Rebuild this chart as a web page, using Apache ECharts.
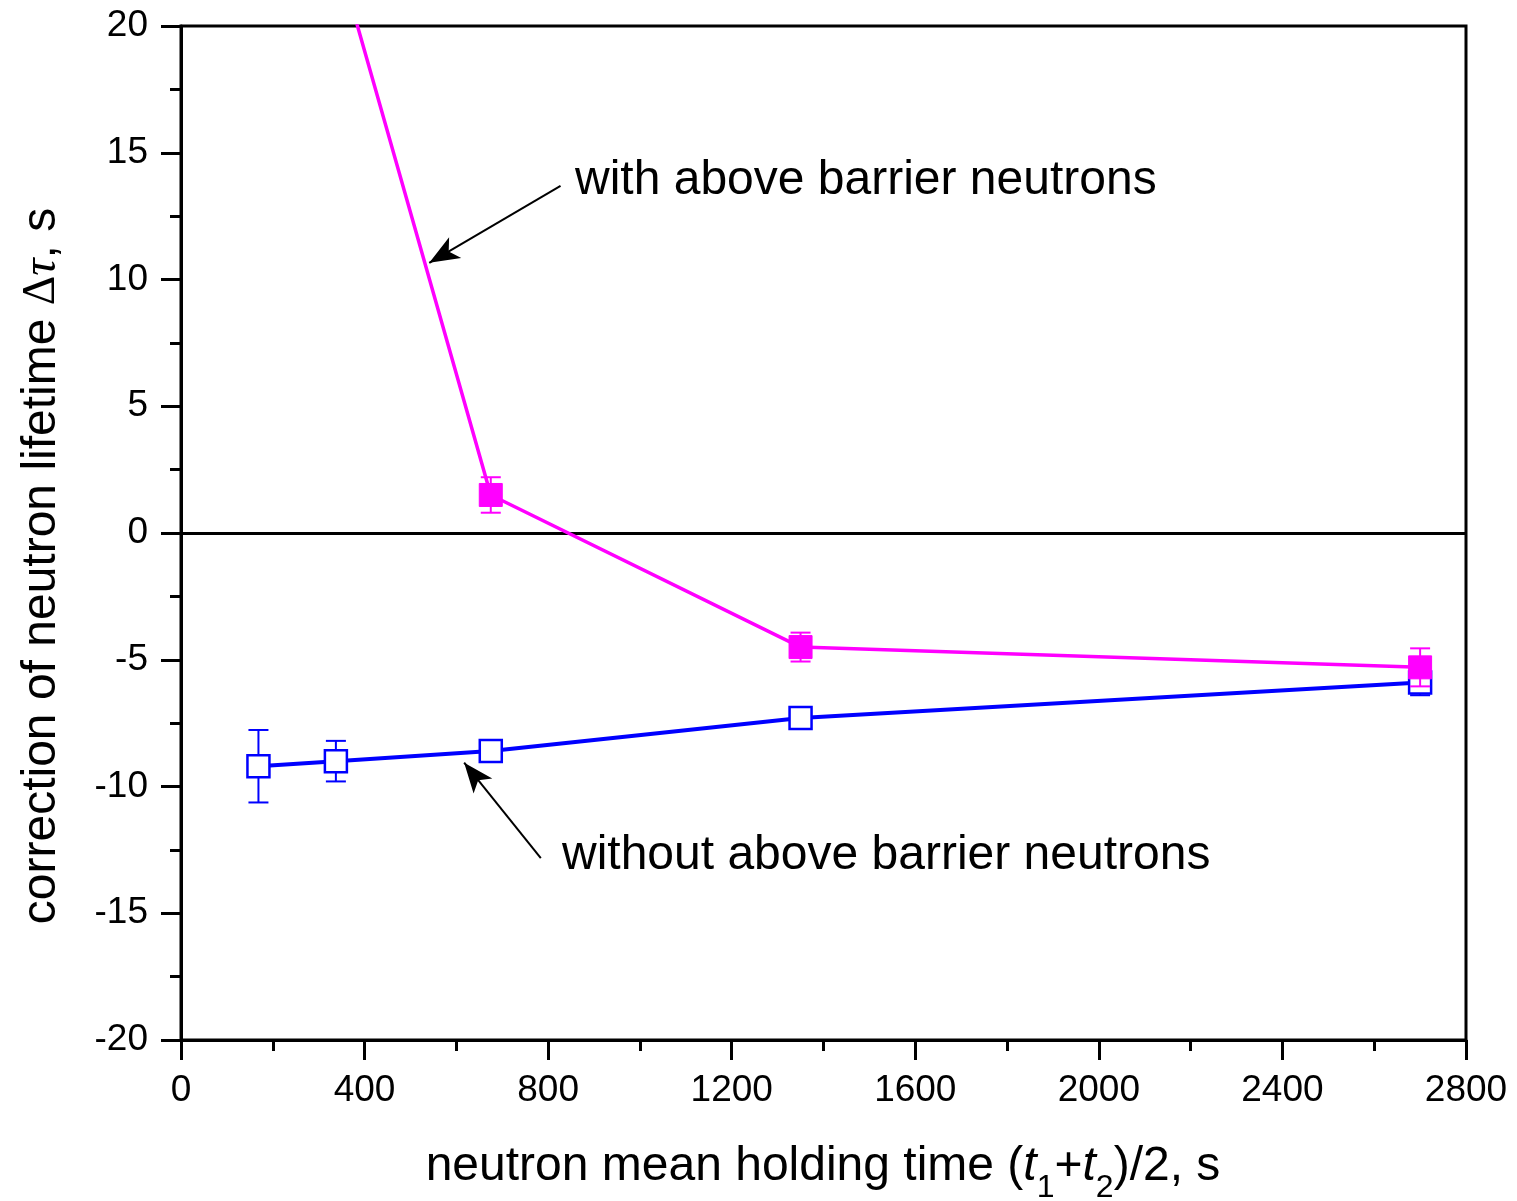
<!DOCTYPE html>
<html>
<head>
<meta charset="utf-8">
<script src="https://cdn.jsdelivr.net/npm/echarts@6/dist/echarts.min.js"></script>
<style>
  html, body { margin: 0; padding: 0; background: #ffffff; }
  #chart { width: 1517px; height: 1201px; }
</style>
</head>
<body>
<div id="chart"></div>
<script>
// Neutron mean holding time (t1+t2)/2, s
const holdingTime = [168.75, 337.5, 675, 1350, 2700];
// Correction of neutron lifetime without above-barrier neutrons
const withoutAbove = [-9.2, -9.0, -8.6, -7.3, -5.9];
const withoutAboveErr = [1.43, 0.8, 0.3, 0.25, 0.5];
// Correction with above-barrier neutrons (first point lies above the plotted range)
const withAboveTime = [337.5, 675, 1350, 2700];
const withAbove = [23.0, 1.5, -4.5, -5.3];
const withAboveErr = [1.0, 0.7, 0.57, 0.75];
// Axis ticks
const xTicks = [0, 400, 800, 1200, 1600, 2000, 2400, 2800];
const yTicks = [-20, -15, -10, -5, 0, 5, 10, 15, 20];

const FONT = '"Liberation Sans", Arial, Helvetica, sans-serif';
const SERIF = '"Liberation Serif", "DejaVu Serif", serif';
const BLUE = '#0000ff';
const MAGENTA = '#ff00ff';

function errorBars(xs, ys, errs, color, z) {
  return {
    type: 'custom',
    z: z,
    clip: true,
    silent: true,
    data: xs.map((x, i) => [x, ys[i] - errs[i], ys[i] + errs[i]]),
    encode: { x: 0, y: [1, 2] },
    renderItem(params, api) {
      const lo = api.coord([api.value(0), api.value(1)]);
      const hi = api.coord([api.value(0), api.value(2)]);
      const hw = 10;
      const st = { stroke: color, lineWidth: 2, fill: null };
      return {
        type: 'group',
        children: [
          { type: 'line', shape: { x1: lo[0], y1: lo[1], x2: hi[0], y2: hi[1] }, style: st },
          { type: 'line', shape: { x1: lo[0] - hw, y1: lo[1], x2: lo[0] + hw, y2: lo[1] }, style: st },
          { type: 'line', shape: { x1: hi[0] - hw, y1: hi[1], x2: hi[0] + hw, y2: hi[1] }, style: st }
        ]
      };
    }
  };
}

const chart = echarts.init(document.getElementById('chart'), null, { renderer: 'canvas' });

const axisCommon = {
  axisLine: { show: true, onZero: false, lineStyle: { color: '#000', width: 3 } },
  axisTick: { show: true, inside: false, length: 20, lineStyle: { color: '#000', width: 3 } },
  minorTick: { show: true, splitNumber: 2, length: 11, lineStyle: { color: '#000', width: 3 } },
  splitLine: { show: false },
  minorSplitLine: { show: false },
  axisLabel: {
    color: '#000', fontSize: 37, fontFamily: FONT,
    formatter: (v) => String(v)
  }
};

chart.setOption({
  animation: false,
  backgroundColor: '#ffffff',
  grid: {
    left: 181, right: 51, top: 26, bottom: 161,
    show: true, borderColor: '#000', borderWidth: 3, backgroundColor: 'transparent'
  },
  xAxis: Object.assign({}, axisCommon, {
    type: 'value',
    min: xTicks[0], max: xTicks[xTicks.length - 1], interval: xTicks[1] - xTicks[0],
    axisLabel: Object.assign({}, axisCommon.axisLabel, { margin: 32 })
  }),
  yAxis: Object.assign({}, axisCommon, {
    type: 'value',
    min: yTicks[0], max: yTicks[yTicks.length - 1], interval: yTicks[1] - yTicks[0],
    axisLabel: Object.assign({}, axisCommon.axisLabel, { margin: 33 })
  }),
  series: [
    {
      // zero reference line and annotation arrows
      type: 'line',
      data: [],
      z: 1,
      markLine: {
        silent: true,
        animation: false,
        label: { show: false },
        data: [
          [
            { coord: [0, 0], symbol: 'none', lineStyle: { width: 3.2 } },
            { coord: [2800, 0], symbol: 'none' }
          ],
          [
            { coord: [827, 13.69], symbol: 'none', lineStyle: { width: 2 } },
            { coord: [541, 10.66], symbol: 'arrow', symbolSize: [18, 30], lineStyle: { width: 2 } }
          ],
          [
            { coord: [784, -12.83], symbol: 'none', lineStyle: { width: 2 } },
            { coord: [617, -9.06], symbol: 'arrow', symbolSize: [18, 30], lineStyle: { width: 2 } }
          ]
        ],
        lineStyle: { color: '#000', width: 3, type: 'solid' },
        itemStyle: { color: '#000' },
        symbol: ['none', 'none']
      }
    },
    errorBars(holdingTime, withoutAbove, withoutAboveErr, BLUE, 2),
    {
      name: 'without above barrier neutrons',
      type: 'line',
      z: 3,
      clip: true,
      data: holdingTime.map((x, i) => [x, withoutAbove[i]]),
      lineStyle: { color: BLUE, width: 4 },
      symbol: 'rect',
      symbolSize: 22,
      showAllSymbol: true,
      itemStyle: { color: '#ffffff', borderColor: BLUE, borderWidth: 2.5 }
    },
    errorBars(withAboveTime, withAbove, withAboveErr, MAGENTA, 4),
    {
      name: 'with above barrier neutrons',
      type: 'line',
      z: 5,
      clip: true,
      data: withAboveTime.map((x, i) => [x, withAbove[i]]),
      lineStyle: { color: MAGENTA, width: 3.5 },
      symbol: 'rect',
      symbolSize: 23,
      showAllSymbol: true,
      itemStyle: { color: MAGENTA, borderColor: MAGENTA, borderWidth: 1 }
    }
  ],
  graphic: [
    {
      type: 'text',
      left: 575, top: 157,
      style: { text: 'with above barrier neutrons', font: '48px ' + FONT, fill: '#000' }
    },
    {
      type: 'text',
      left: 562, top: 832,
      style: { text: 'without above barrier neutrons', font: '48px ' + FONT, fill: '#000' }
    },
    {
      type: 'text',
      x: 823, y: 1167,
      style: {
        text: '{n|neutron mean holding time (}{i|t}{s|1}{n|+}{i|t}{s|2}{n|)/2, s}',
        align: 'center', verticalAlign: 'middle',
        rich: {
          n: { fontSize: 48, fontFamily: FONT, fill: '#000' },
          i: { fontSize: 48, fontFamily: FONT, fontStyle: 'italic', fill: '#000' },
          s: { fontSize: 32, fontFamily: FONT, fill: '#000', padding: [42, 0, 0, 0] }
        }
      }
    },
    {
      type: 'text',
      x: 42, y: 566,
      rotation: Math.PI / 2,
      style: {
        text: '{n|correction of neutron lifetime }{d|\u0394}{t|\u03c4}{n|, s}',
        align: 'center', verticalAlign: 'middle',
        rich: {
          n: { fontSize: 48, fontFamily: FONT, fill: '#000' },
          d: { fontSize: 46, fontFamily: SERIF, fill: '#000' },
          t: { fontSize: 48, fontFamily: SERIF, fontStyle: 'italic', fill: '#000' }
        }
      }
    }
  ]
});
</script>
</body>
</html>
